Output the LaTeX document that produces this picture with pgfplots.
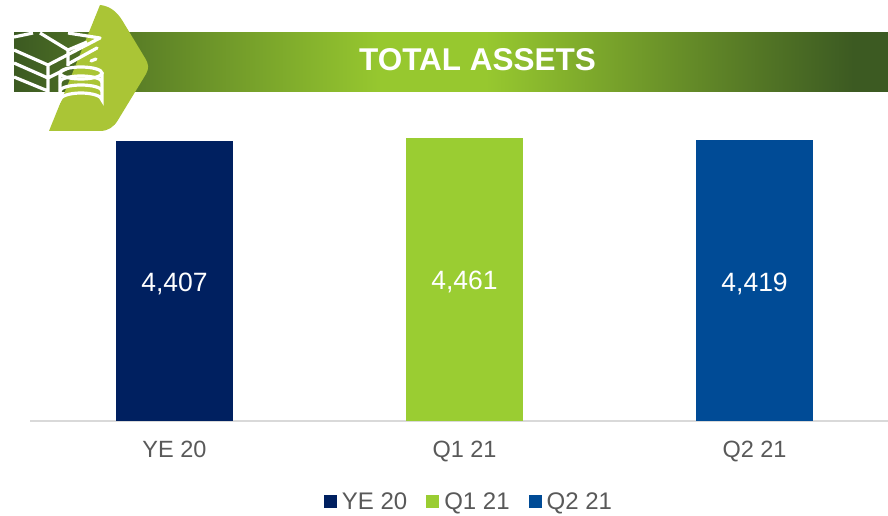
\documentclass[border=0pt]{standalone}
\usepackage{fontspec}
\setmainfont{Liberation Sans}
\usepackage{pgfplots}
\pgfplotsset{compat=1.18}
\definecolor{navy}{HTML}{002060}
\definecolor{lime}{HTML}{9ACD32}
\definecolor{blu}{HTML}{004B96}
\definecolor{chev}{HTML}{AAC536}
\definecolor{txt}{HTML}{595959}
\definecolor{bandd}{HTML}{3C5A22}
\definecolor{bandm}{HTML}{97C82F}
\pgfdeclarehorizontalshading{bandsh}{100bp}{
 color(0bp)=(bandd);
 color(25bp)=(bandd);
 color(46bp)=(bandm);
 color(52bp)=(bandm);
 color(73bp)=(bandd);
 color(100bp)=(bandd)}
\pgfplotsset{sq/.style={legend image code/.code={\fill[#1] (0pt,-6.5pt) rectangle (13pt,6.5pt);}}}
\begin{document}
\begin{tikzpicture}[x=1pt,y=1pt]
\useasboundingbox (0,0) rectangle (888,515);
\begin{scope}[y=-1pt,yshift=515pt]
\shade[shading=bandsh] (14,33) rectangle (888,92);
\fill[chev] (49,131) -- (100,5) .. controls (110,6) and (117,12) .. (122,20) -- (145,58) .. controls (149,65) and (149,68) .. (146,74) -- (118,120) .. controls (114,127) and (108,131) .. (100,131) -- cycle;
\begin{scope}
\clip (14,33) rectangle (150,115);
\draw[white,line width=3.2pt,line join=round]
 (14,50) -- (48,65) -- (100,38) -- (68,33)
 (14,63) -- (48,78) -- (68,68)
 (14,77) -- (48,91)
 (14,37) -- (33,33)
 (40,33) -- (68,50) -- (87,42)
 (48,65) -- (48,92)
 (68,50) -- (68,66);
\draw[white,line width=3.2pt,line cap=round] (68,64) -- (97,48) (91,61) -- (96,59);
\draw[white,line width=3.2pt] (81,73) ellipse (21 and 6);
\draw[white,line width=3.2pt] (60,73) -- (60,100) arc[start angle=180,end angle=360,x radius=21,y radius=7] -- (102,73);
\draw[white,line width=3.2pt] (60,82) arc[start angle=180,end angle=360,x radius=21,y radius=6];
\draw[white,line width=3.2pt] (60,91) arc[start angle=180,end angle=360,x radius=21,y radius=6];
\end{scope}
\node[white,font=\bfseries\fontsize{31.5}{36}\selectfont,anchor=center] at (477.5,60) {TOTAL ASSETS};
\end{scope}
\begin{axis}[at={(30pt,94pt)},anchor=south west,scale only axis,width=858pt,height=421pt,
 xmin=-0.498,xmax=2.46,ymin=0,ymax=6625,
 ybar,bar width=117pt,bar shift=0pt,
 axis x line*=bottom,axis y line=none,
 x axis line style={draw=black!15,line width=1.5pt,-},
 xtick={0,1,2},xticklabels={YE 20,Q1 21,Q2 21},
 xtick style={draw=none},
 tick label style={font=\fontsize{23.5}{26}\selectfont,text=txt},
 xticklabel style={yshift=-12pt},
 clip=false,
 legend columns=3,
 legend style={at={(469pt-30pt,-94pt+2pt)},anchor=south,draw=none,fill=none,
  font=\fontsize{24}{26}\selectfont,text=txt,
  /tikz/every even column/.style={column sep=17pt},
  /tikz/every odd column/.style={column sep=3pt},inner sep=0pt},
 /pgf/number format/1000 sep={,},
 /pgf/number format/assume math mode=true,
 nodes near coords,
 visualization depends on={y*0.0318 \as\half},
 nodes near coords style={anchor=center,text=white,font=\fontsize{26.5}{28}\selectfont,yshift=-\half pt-3pt},
]
\addplot[fill=navy,draw=none,sq=navy] coordinates {(0,4407)};
\addlegendentry{YE 20}
\addplot[fill=lime,draw=none,sq=lime] coordinates {(1,4461)};
\addlegendentry{Q1 21}
\addplot[fill=blu,draw=none,sq=blu] coordinates {(2,4419)};
\addlegendentry{Q2 21}
\end{axis}
\end{tikzpicture}
\end{document}
